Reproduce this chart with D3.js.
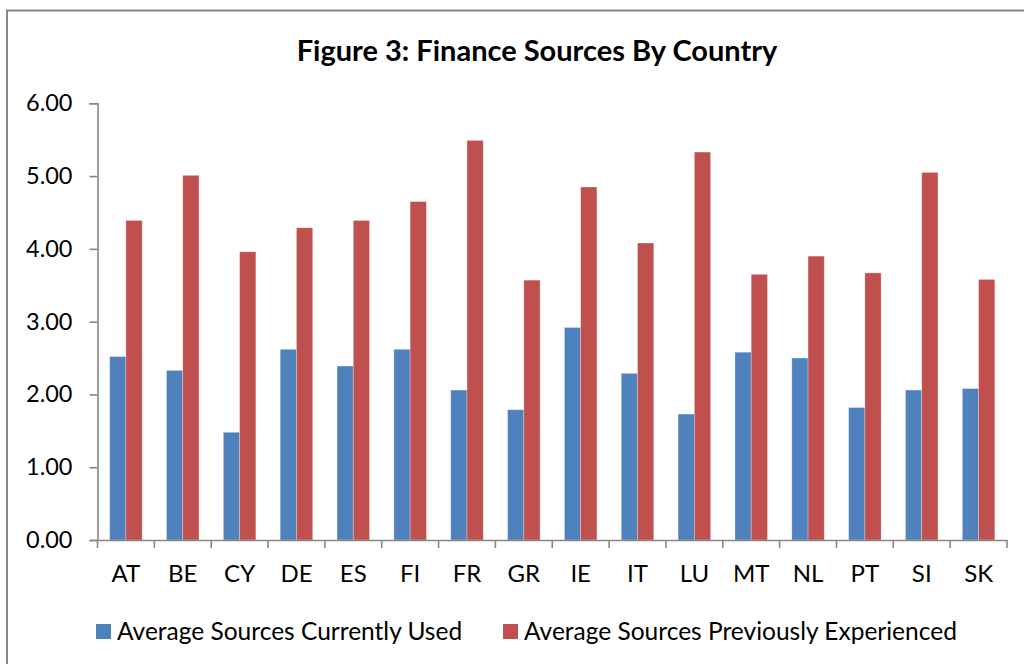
<!DOCTYPE html>
<html>
<head>
<meta charset="utf-8">
<script src="https://cdn.jsdelivr.net/npm/d3@7"></script>
<style>
  html, body { margin: 0; padding: 0; background: #fff; }
  svg { display: block; }
  text { font-family: Lato, "Open Sans", sans-serif; fill: #000; }
</style>
</head>
<body>
<svg id="chart" width="1024" height="664"></svg>
<script>
const categories = ["AT","BE","CY","DE","ES","FI","FR","GR","IE","IT","LU","MT","NL","PT","SI","SK"];
const seriesNames = ["Average Sources Currently Used", "Average Sources Previously Experienced"];
const currentlyUsed = [2.52, 2.33, 1.48, 2.62, 2.39, 2.62, 2.06, 1.79, 2.92, 2.29, 1.73, 2.58, 2.50, 1.82, 2.06, 2.08];
const previouslyExperienced = [4.39, 5.01, 3.96, 4.29, 4.39, 4.65, 5.49, 3.57, 4.85, 4.08, 5.33, 3.65, 3.90, 3.67, 5.05, 3.58];
const yTicks = [0, 1, 2, 3, 4, 5, 6];
const colors = ["#4F81BD", "#C0504D"];
const title = "Figure 3: Finance Sources By Country";

const svg = d3.select("#chart");

// outer chart border
svg.append("rect")
  .attr("x", 7).attr("y", 10.5)
  .attr("width", 1040).attr("height", 680)
  .attr("fill", "none").attr("stroke", "#878787").attr("stroke-width", 2);

const plot = { left: 97.5, right: 1007, top: 103.3, bottom: 540 };

const x = d3.scaleBand().domain(categories).range([plot.left, plot.right]).paddingInner(0).paddingOuter(0);
// Excel gap width 150%: group = 2w, gap = 1.5w -> outer padding 0.75w each side
const inner = d3.scaleBand().domain([0, 1]).range([0, x.bandwidth()]).paddingInner(0).paddingOuter(0.75);
const y = d3.scaleLinear().domain([0, 6]).range([plot.bottom, plot.top]);

// title
svg.append("text")
  .attr("x", 537).attr("y", 61)
  .attr("text-anchor", "middle")
  .style("font-size", "29px").style("font-weight", "bold")
  .text(title);

// bars
const data = categories.map((c, i) => ({ c, vals: [currentlyUsed[i], previouslyExperienced[i]] }));
const groups = svg.append("g").selectAll("g").data(data).join("g")
  .attr("transform", d => `translate(${x(d.c)},0)`);
groups.selectAll("rect").data(d => d.vals.map((v, k) => ({ v, k }))).join("rect")
  .attr("x", d => inner(d.k))
  .attr("width", inner.bandwidth())
  .attr("y", d => y(d.v))
  .attr("height", d => y(0) - y(d.v))
  .attr("fill", d => colors[d.k])
  .attr("stroke", "rgba(255,255,255,0.35)")
  .attr("stroke-width", 0.8);

// y axis
const yAxis = d3.axisLeft(y).tickValues(yTicks).tickFormat(d3.format(".2f")).tickSize(8).tickPadding(17);
const gy = svg.append("g").attr("transform", `translate(${plot.left},0)`).call(yAxis);
gy.select(".domain").attr("stroke", "#878787").attr("stroke-width", 1.6);
gy.selectAll(".tick line").attr("stroke", "#878787").attr("stroke-width", 1.6);
gy.selectAll(".tick text").style("font-size", "23.5px").style("font-family", "Lato, sans-serif").attr("fill", "#000");

// x axis
const xAxis = d3.axisBottom(x).tickSize(0).tickPadding(25);
const gx = svg.append("g").attr("transform", `translate(0,${plot.bottom})`).call(xAxis);
gx.select(".domain").attr("stroke", "#878787").attr("stroke-width", 1.6);
gx.selectAll(".tick text").style("font-size", "24px").style("font-family", "Lato, sans-serif").attr("fill", "#000");
// category boundary tick marks
const bounds = categories.map(c => x(c)).concat([x(categories[categories.length - 1]) + x.bandwidth()]);
gx.append("g").selectAll("line").data(bounds).join("line")
  .attr("x1", d => d).attr("x2", d => d)
  .attr("y1", 0).attr("y2", 8)
  .attr("stroke", "#878787").attr("stroke-width", 1.6);

// legend
const legendItems = [{ name: seriesNames[0], x: 96 }, { name: seriesNames[1], x: 503 }];
const lg = svg.append("g").selectAll("g").data(legendItems).join("g")
  .attr("transform", d => `translate(${d.x},624)`);
lg.append("rect").attr("width", 15).attr("height", 15).attr("fill", (d, i) => colors[i]);
lg.append("text").attr("x", 21).attr("y", 15.5)
  .style("font-size", "24.5px")
  .text(d => d.name);
</script>
</body>
</html>
